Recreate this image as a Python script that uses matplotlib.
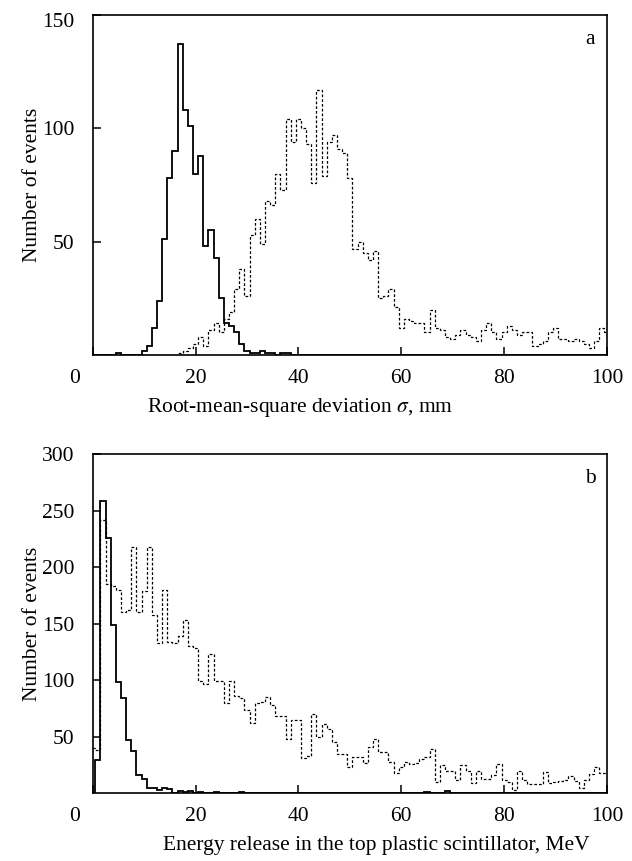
import numpy as np
import matplotlib
matplotlib.use("Agg")
import matplotlib.pyplot as plt
from matplotlib.transforms import ScaledTranslation

plt.rcParams["font.family"] = ["Liberation Serif", "DejaVu Serif"]
plt.rcParams["mathtext.fontset"] = "stix"

# ---- data: event counts per 1-unit bin, bins centred on 0, 1, ..., 100 ----
bin_centers = np.arange(0, 101)

# (a) root-mean-square deviation sigma, mm
rms_solid = [0, 0, 0, 0, 0, 1, 0, 0, 0, 0,
             2, 4, 12, 24, 51, 78, 90, 137, 108, 101,
             80, 88, 48, 55, 43, 25, 14, 13, 10, 5,
             2, 1, 1, 2, 1, 1, 0, 1, 1, 0] + [0] * 61

rms_dotted = [0] * 17 + [1, 2, 3,
              5, 8, 4, 11, 14, 10, 16, 19, 29, 38,
              26, 53, 60, 49, 68, 66, 80, 73, 104, 94,
              104, 100, 93, 76, 117, 79, 94, 97, 91, 89,
              78, 47, 50, 45, 42, 46, 25, 26, 29, 21,
              12, 16, 15, 14, 14, 10, 20, 12, 11, 8,
              7, 9, 11, 9, 8, 6, 11, 14, 10, 7,
              10, 13, 11, 9, 10, 10, 4, 5, 6, 10,
              12, 7, 7, 6, 7, 6, 5, 3, 6, 12,
              10]

# (b) energy release in the top plastic scintillator, MeV
energy_solid = [0, 29, 258, 226, 149, 98, 84, 47, 37, 16,
                13, 5, 5, 3, 5, 4, 0, 2, 1, 2,
                0, 1, 0, 0, 1, 0, 0, 0, 0, 1] + [0] * 35 + [1, 0, 0, 0, 2] + [0] * 31

energy_dotted = [40, 38, 242, 185, 183, 180, 160, 162, 218, 160,
                 179, 218, 158, 133, 180, 134, 133, 139, 153, 130,
                 128, 99, 97, 123, 99, 99, 80, 99, 86, 84,
                 74, 62, 80, 81, 85, 78, 68, 68, 48, 65,
                 65, 31, 33, 70, 50, 61, 57, 45, 35, 35,
                 23, 32, 32, 27, 41, 48, 36, 36, 28, 18,
                 23, 28, 26, 27, 30, 32, 39, 10, 25, 20,
                 20, 12, 25, 20, 9, 20, 13, 13, 16, 26,
                 12, 10, 3, 20, 12, 8, 8, 8, 19, 9,
                 10, 11, 12, 15, 11, 5, 12, 17, 23, 18,
                 18]

x_ticks = [0, 20, 40, 60, 80, 100]
rms_yticks = [50, 100, 150]
energy_yticks = [50, 100, 150, 200, 250, 300]

edges = np.append(bin_centers - 0.5, bin_centers[-1] + 0.5)

fig = plt.figure(figsize=(6.32, 8.61), dpi=100)
W, H = 632, 861
ax_a = fig.add_axes([92.7 / W, 1 - 355.1 / H, 514.3 / W, 340.2 / H])
ax_b = fig.add_axes([92.7 / W, 1 - 793.2 / H, 514.3 / W, 339.2 / H])

FS = 15.5
solid_kw = dict(color="black", linewidth=1.3)
dotted_kw = dict(color="black", linewidth=0.9, linestyle=(0, (2.2, 1.6)))


def shift_label(lbl, dx_px, dy_px):
    lbl.set_transform(lbl.get_transform()
                      + ScaledTranslation(dx_px / 100, dy_px / 100, fig.dpi_scale_trans))


def style_axes(ax, ylim, yticks, letter, xlabel, xlabel_x, top_label_drop):
    ax.set_xlim(0, 100)
    ax.set_ylim(*ylim)
    ax.set_xticks(x_ticks)
    ax.set_yticks(yticks)
    ax.tick_params(direction="in", length=6, width=1.1, labelsize=FS)
    ax.tick_params(axis="x", pad=10)
    ax.tick_params(axis="y", pad=13)
    for s in ax.spines.values():
        s.set_linewidth(1.2)
    fig.canvas.draw()
    # the zero label sits out at the corner, left of the origin
    shift_label(ax.get_xticklabels()[0], -18, 0)
    if top_label_drop:
        shift_label(ax.get_yticklabels()[-1], 0, -top_label_drop)
    ax.set_ylabel("Number of events", fontsize=FS, va="center")
    ax.yaxis.set_label_coords(-0.118, 0.5)
    ax.set_xlabel(xlabel, fontsize=FS, va="center")
    ax.xaxis.set_label_coords(xlabel_x, -0.153)
    ax.text(96.7, ylim[1] * 0.927, letter, fontsize=FS, ha="center", va="center")


ax_a.stairs(rms_solid, edges, **solid_kw)
ax_a.stairs(rms_dotted, edges, **dotted_kw)
style_axes(ax_a, (0, 150), rms_yticks, "a",
           r"Root-mean-square deviation $\sigma$, mm", 0.403, 5)

ax_b.stairs(energy_solid, edges, **solid_kw)
ax_b.stairs(energy_dotted, edges, **dotted_kw)
style_axes(ax_b, (0, 300), energy_yticks, "b",
           "Energy release in the top plastic scintillator, MeV", 0.551, 0)

fig.savefig("out.png", dpi=100)
